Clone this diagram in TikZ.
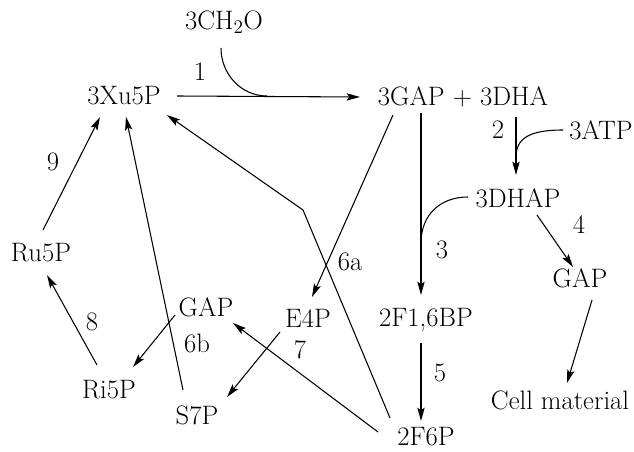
\documentclass[tikz,border=0pt]{standalone}
\usetikzlibrary{arrows.meta,calc}
\tikzset{every picture/.style={line width=0.8pt}}
\tikzset{
  species/.style={inner sep=0pt,font=\fontsize{20}{22}\selectfont},
  stepno/.style={inner sep=0pt,font=\fontsize{20}{22}\selectfont},
  flow/.style={-{Stealth[length=10pt,width=5.5pt,inset=2pt]}}
}
\begin{document}
\begin{tikzpicture}[x=0.75pt,y=0.75pt,yscale=-1,xscale=1]
\useasboundingbox (0,0) rectangle (634,452);

% Text Node
\node[species] (ch2o) at (224,22) {3CH$_2$O};
\node[species] (xu5p) at (124,96) {3Xu5P};
\node[species] (gapdha) at (463,97) {3GAP + 3DHA};
\node[species] (atp) at (601,130) {3ATP};
\node[species] (dhap) at (518,198) {3DHAP};
\node[species] (gapr) at (580,278) {GAP};
\node[species] (cell) at (560,400) {Cell material};
\node[species] (f16bp) at (426,320) {2F1,6BP};
\node[species] (f6p) at (426,437) {2F6P};
\node[species] (e4p) at (308,318) {E4P};
\node[species] (gapm) at (206,307) {GAP};
\node[species] (ri5p) at (109,390) {Ri5P};
\node[species] (s7p) at (197,415) {S7P};
\node[species] (ru5p) at (41,253) {Ru5P};

% Step numbers
\node[stepno] (l1) at (200,72) {1};
\node[stepno] (l2) at (498,130) {2};
\node[stepno] (l3) at (442,250) {3};
\node[stepno] (l4) at (579,225) {4};
\node[stepno] (l5) at (440,373) {5};
\node[stepno] (l6a) at (350,262) {6a};
\node[stepno] (l6b) at (197,343) {6b};
\node[stepno] (l7) at (300,350) {7};
\node[stepno] (l8) at (92,322) {8};
\node[stepno] (l9) at (53,162) {9};

% Junctions and bend
\coordinate (j1) at (267,96);
\coordinate (j2) at (516,157);
\coordinate (j3) at (421,243);
\coordinate (bend) at (303,210);

%Straight Lines (step 1)
\draw [flow] ($(xu5p)+(53,0)$) -- ($(gapdha)+(-103,0)$);
\draw ($(ch2o)+(-3,26)$) .. controls +(0,26) and +(-26,0) .. (j1);
%Straight Lines (step 2)
\draw [flow] ($(gapdha)+(53,20)$) -- ($(dhap)+(-2,-23)$);
\draw ($(atp)+(-38,0)$) .. controls +(-33,0) and +(0,-19) .. (j2);
%Straight Lines (step 3)
\draw [flow] ($(gapdha)+(-42,16)$) -- ($(f16bp)+(-5,-25)$);
\draw ($(dhap)+(-50,-1)$) .. controls +(-28,0) and +(0,-28) .. (j3);
%Straight Lines (step 4)
\draw [flow] ($(dhap)+(19,17)$) -- ($(gapr)+(-7,-11)$);
\draw [flow] ($(gapr)+(12,22)$) -- ($(cell)+(7,-17)$);
%Straight Lines (step 5)
\draw [flow] ($(f16bp)+(-5,23)$) -- ($(f6p)+(-5,-16)$);
%Straight Lines (step 6a, 6b)
\draw [flow] ($(gapdha)+(-70,18)$) -- ($(e4p)+(4,-21)$);
\draw [flow] ($(f6p)+(-36,-19)$) -- (bend) -- ($(xu5p)+(43,19)$);
\draw [flow] ($(gapm)+(-31,8)$) -- ($(ri5p)+(24,-23)$);
%Straight Lines (step 7)
\draw [flow] ($(e4p)+(-28,14)$) -- ($(s7p)+(30,-18)$);
\draw [flow] ($(f6p)+(-48,-5)$) -- ($(gapm)+(27,16)$);
\draw [flow] ($(s7p)+(-14,-25)$) -- ($(xu5p)+(2,21)$);
%Straight Lines (step 8, 9)
\draw [flow] ($(ri5p)+(-12,-25)$) -- ($(ru5p)+(6,22)$);
\draw [flow] ($(ru5p)+(2,-23)$) -- ($(xu5p)+(-24,21)$);
\end{tikzpicture}
\end{document}
